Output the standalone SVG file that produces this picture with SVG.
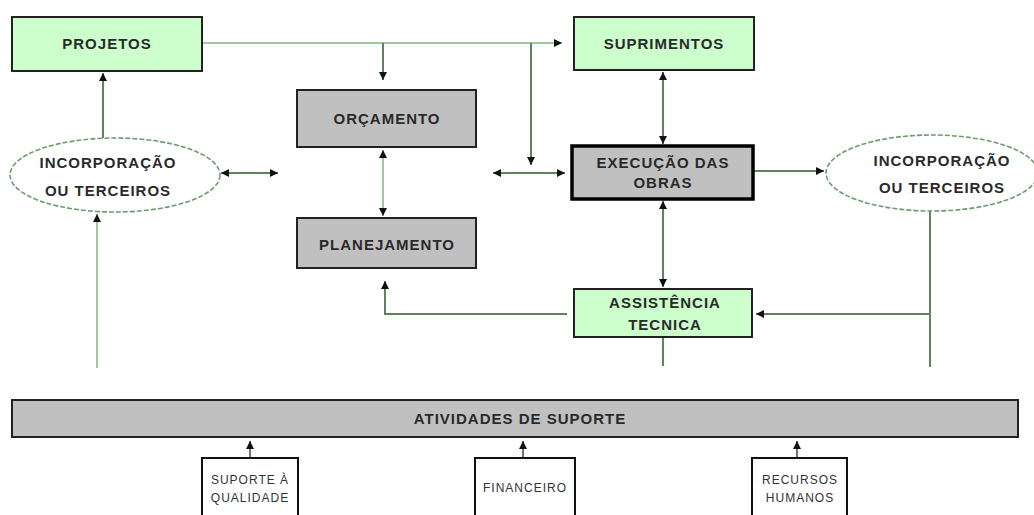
<svg xmlns="http://www.w3.org/2000/svg" width="1034" height="515" viewBox="0 0 1034 515">
<style>
.g{fill:#ccffcc;stroke:#222;stroke-width:2}
.gr{fill:#c0c0c0;stroke:#222;stroke-width:2}
.ex{fill:#c0c0c0;stroke:#000;stroke-width:3.5}
.el{fill:#fff;stroke:#6f9a6f;stroke-width:1.6;stroke-dasharray:5 2}
.wb{fill:#fff;stroke:#111;stroke-width:2}
.t{font-family:"Liberation Sans",Arial,sans-serif;font-weight:bold;font-size:15px;fill:#2a2a2a;text-anchor:middle;letter-spacing:1px}
.s{font-family:"Liberation Sans",Arial,sans-serif;font-size:12px;fill:#333;text-anchor:middle;letter-spacing:1px}
.c{fill:none;stroke:#5f835f;stroke-width:2}
.cl{fill:none;stroke:#9cc89c;stroke-width:2}
.a{marker-end:url(#ah)}
.b{marker-start:url(#ah);marker-end:url(#ah)}
</style>
<defs>
<marker id="ah" markerUnits="userSpaceOnUse" markerWidth="9" markerHeight="9" refX="8" refY="4" orient="auto-start-reverse">
<path d="M0,0 L8,4 L0,8 z" fill="#111"/>
</marker>
</defs>
<g id="connectors">
<path class="cl a" d="M202,43 H562"/>
<path class="c a" d="M383,43 V80"/>
<path class="c a" d="M531,43 V165"/>
<path class="c b" d="M493,173 H565"/>
<path class="c b" d="M663,72 V144"/>
<path class="c a" d="M753,171 H824"/>
<path class="c b" d="M221,173 H278"/>
<path class="c a" d="M103,138 V73"/>
<path class="cl a" d="M97,368 V214"/>
<path class="cl b" d="M383,150 V216"/>
<path class="c b" d="M663,201 V287"/>
<path class="c" d="M663,337 V366"/>
<path class="c a" d="M567,314 H385 V281"/>
<path class="c" d="M930,211 V367"/>
<path class="c a" d="M930,314 H756"/>
<path class="c a" d="M250,458 V441"/>
<path class="c a" d="M523,458 V441"/>
<path class="c a" d="M797,458 V441"/>
</g>
<g id="projetos"><rect class="g" x="12" y="17" width="190" height="54"/><text class="t" x="107" y="49">PROJETOS</text></g>
<g id="suprimentos"><rect class="g" x="574" y="17" width="180" height="53"/><text class="t" x="664" y="49">SUPRIMENTOS</text></g>
<g id="orcamento"><rect class="gr" x="297" y="90" width="179" height="57"/><text class="t" x="387" y="124">ORÇAMENTO</text></g>
<g id="planejamento"><rect class="gr" x="297" y="218" width="179" height="50"/><text class="t" x="387" y="250">PLANEJAMENTO</text></g>
<g id="execucao"><rect class="ex" x="572" y="146" width="181" height="53"/><text class="t" x="663" y="168">EXECUÇÃO DAS</text><text class="t" x="663" y="188">OBRAS</text></g>
<g id="incorporacao-esq"><ellipse class="el" cx="115" cy="175" rx="105" ry="37"/><text class="t" x="108" y="168">INCORPORAÇÃO</text><text class="t" x="108" y="196">OU TERCEIROS</text></g>
<g id="incorporacao-dir"><ellipse class="el" cx="932" cy="173" rx="106" ry="38"/><text class="t" x="942" y="166">INCORPORAÇÃO</text><text class="t" x="942" y="193">OU TERCEIROS</text></g>
<g id="assistencia"><rect class="g" x="574" y="289" width="178" height="48"/><text class="t" x="665" y="308">ASSISTÊNCIA</text><text class="t" x="665" y="330">TECNICA</text></g>
<g id="atividades"><rect class="gr" x="12" y="400" width="1006" height="37"/><text class="t" x="520" y="424">ATIVIDADES DE SUPORTE</text></g>
<g id="suporte-qualidade"><path class="wb" d="M202,520 V458 H298 V520"/><text class="s" x="250" y="484">SUPORTE À</text><text class="s" x="250" y="502">QUALIDADE</text></g>
<g id="financeiro"><path class="wb" d="M475,520 V458 H575 V520"/><text class="s" x="525" y="492">FINANCEIRO</text></g>
<g id="recursos-humanos"><path class="wb" d="M752,520 V458 H847 V520"/><text class="s" x="800" y="484">RECURSOS</text><text class="s" x="800" y="502">HUMANOS</text></g>
</svg>
